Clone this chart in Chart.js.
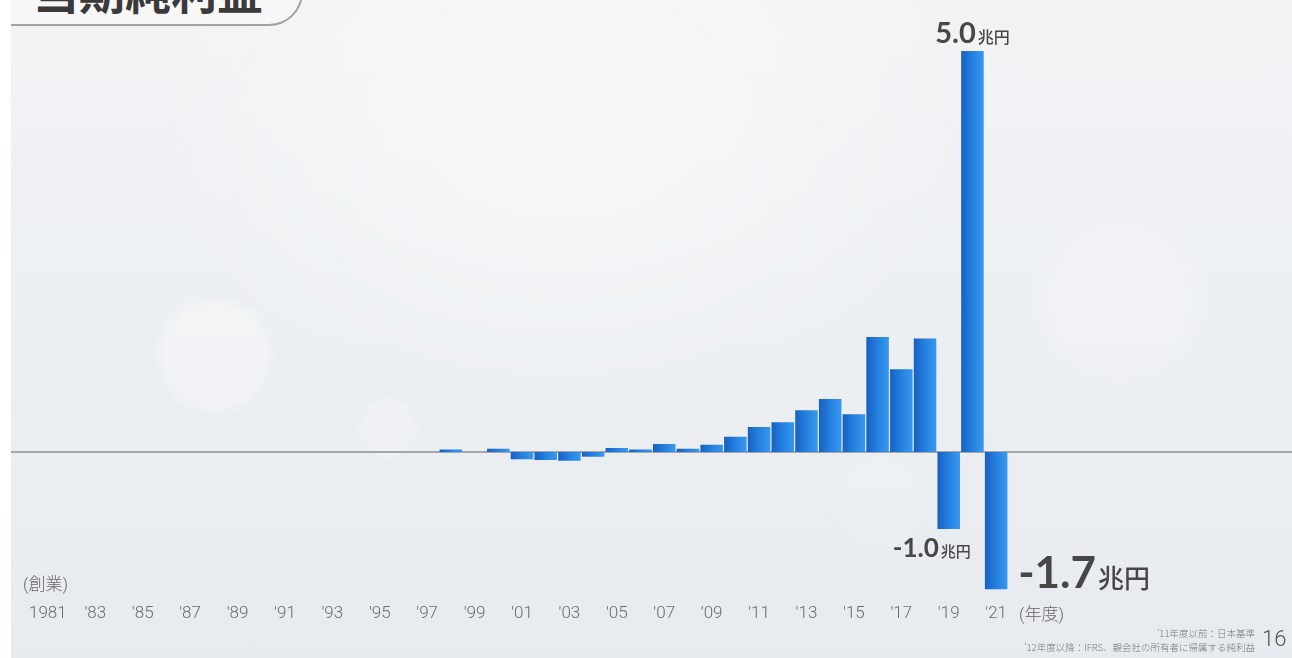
<!DOCTYPE html>
<html lang="ja">
<head>
<meta charset="utf-8">
<title>当期純利益</title>
<script src="https://cdn.jsdelivr.net/npm/chart.js@4.4.1/dist/chart.umd.min.js"></script>
<style>
  html, body { margin: 0; padding: 0; }
  body {
    width: 1292px; height: 658px; overflow: hidden; position: relative;
    font-family: Roboto, "Noto Sans CJK JP", sans-serif;
    background:
      radial-gradient(circle at 215px 355px, rgba(255,255,255,0.28) 0 50px, rgba(255,255,255,0) 62px),
      radial-gradient(circle at 388px 428px, rgba(255,255,255,0.2) 0 24px, rgba(255,255,255,0) 34px),
      radial-gradient(circle at 1120px 300px, rgba(255,255,255,0.16) 0 70px, rgba(255,255,255,0) 92px),
      radial-gradient(circle at 880px 500px, rgba(255,255,255,0.16) 0 40px, rgba(255,255,255,0) 54px),
      radial-gradient(ellipse at 560px 110px, rgba(255,255,255,0.5), rgba(255,255,255,0) 420px),
      linear-gradient(180deg, #f1f3f5 0%, #eceff2 55%, #e7ebef 100%);
  }
  #edge { position: absolute; left: 0; top: 0; width: 11px; height: 658px; background: #fff; }
  #titleBox {
    position: absolute; left: 11px; top: -40px; width: 290px; height: 62px;
    background: #f7f7f7; border: 2px solid #a2a2a2; border-left: none;
    border-radius: 0 0 34px 0;
  }
  #title {
    position: absolute; left: 33px; top: -34px; margin: 0;
    font: 700 46px/46px "Noto Sans CJK JP", sans-serif; color: #3a3a3a;
  }
  #chart { position: absolute; left: 0; top: 0; }
  .note { position: absolute; color: #666; white-space: nowrap; }
  #founded { left: 23px; top: 574px; font: 300 17px/20px Roboto, "Noto Sans CJK JP", sans-serif; }
  #fiscal { left: 1019px; top: 604px; font: 300 17px/20px Roboto, "Noto Sans CJK JP", sans-serif; }
  #foot {
    right: 37px; top: 626px; text-align: right; color: #777;
    font: 300 9.5px/14px "Noto Sans CJK JP", sans-serif;
  }
  #page { left: 1262px; top: 627px; font: 300 22px/24px Roboto, sans-serif; color: #555; }
</style>
</head>
<body>
<div id="edge"></div>
<div id="titleBox"></div>
<h1 id="title">当期純利益</h1>
<canvas id="chart" width="1292" height="658"></canvas>
<div class="note" id="founded">(創業)</div>
<div class="note" id="fiscal">(年度)</div>
<div class="note" id="foot">'11年度以前：日本基準<br>'12年度以降：IFRS、親会社の所有者に帰属する純利益</div>
<div class="note" id="page">16</div>
<script>
// fiscal years, founding year first
const years = [
  1981, 1982, 1983, 1984, 1985, 1986, 1987, 1988, 1989, 1990,
  1991, 1992, 1993, 1994, 1995, 1996, 1997, 1998, 1999, 2000,
  2001, 2002, 2003, 2004, 2005, 2006, 2007, 2008, 2009, 2010,
  2011, 2012, 2013, 2014, 2015, 2016, 2017, 2018, 2019, 2020,
  2021
];

const tickLabels = [
  '1981', '', "'83", '', "'85", '', "'87", '', "'89", '',
  "'91", '', "'93", '', "'95", '', "'97", '', "'99", '',
  "'01", '', "'03", '', "'05", '', "'07", '', "'09", '',
  "'11", '', "'13", '', "'15", '', "'17", '', "'19", '',
  "'21"
];

// net income, trillion yen
const netIncome = [
  0, 0, 0, 0, 0, 0, 0, 0, 0, 0,
  0, 0, 0, 0, 0, 0, 0, 0.03, 0, 0.04,
  -0.09, -0.10, -0.11, -0.06, 0.05, 0.03, 0.10, 0.04, 0.09, 0.19,
  0.31, 0.37, 0.52, 0.66, 0.47, 1.43, 1.03, 1.41, -0.96, 4.99,
  -1.71
];

// years whose amount is written next to the bar
const labelledYears = [2019, 2020, 2021];

function barFill(ctx) {
  const xs = ctx.chart.scales.x;
  const fallback = '#2580dd';
  if (!xs || ctx.dataIndex === undefined || !xs.width) return fallback;
  const cx = xs.getPixelForValue(ctx.dataIndex);
  if (!isFinite(cx)) return fallback;
  const half = xs.width / years.length * 0.48;
  const g = ctx.chart.ctx.createLinearGradient(cx - half, 0, cx + half, 0);
  g.addColorStop(0, '#1760c2');
  g.addColorStop(0.5, '#2580df');
  g.addColorStop(1, '#3899ee');
  return g;
}

const zeroLine = {
  id: 'zeroLine',
  beforeDatasetsDraw(chart) {
    const y = chart.scales.y.getPixelForValue(0);
    const c = chart.ctx;
    c.save();
    c.strokeStyle = '#a4a8ac';
    c.lineWidth = 2;
    c.beginPath();
    c.moveTo(11, y);
    c.lineTo(chart.width, y);
    c.stroke();
    c.restore();
  }
};

function drawAmount(c, value, x, y, align, numSize, unitSize) {
  const num = value.toFixed(1);
  const numFont = `700 ${numSize}px Lato, sans-serif`;
  const unitFont = `500 ${unitSize}px "Noto Sans CJK JP", sans-serif`;
  c.font = numFont;
  const nw = c.measureText(num).width;
  c.font = unitFont;
  const uw = c.measureText('兆円').width;
  const total = nw + 2 + uw;
  let left = x;
  if (align === 'center') left = x - total / 2;
  if (align === 'right') left = x - total;
  c.textAlign = 'left';
  c.textBaseline = 'alphabetic';
  c.fillStyle = '#474747';
  c.font = numFont;
  c.fillText(num, left, y);
  c.font = unitFont;
  c.fillText('兆円', left + nw + 2, y);
}

const amountLabels = {
  id: 'amountLabels',
  afterDatasetsDraw(chart) {
    const bars = chart.getDatasetMeta(0).data;
    const c = chart.ctx;
    c.save();
    labelledYears.forEach(yr => {
      const i = years.indexOf(yr);
      const bar = bars[i];
      const v = netIncome[i];
      if (yr === 2020) drawAmount(c, v, bar.x, bar.y - 8, 'center', 29, 16);
      if (yr === 2019) drawAmount(c, v, bar.x + 22, bar.y + 28, 'right', 26, 15);
      if (yr === 2021) drawAmount(c, v, bar.x + 22, bar.y - 1, 'left', 44, 26);
    });
    c.restore();
  }
};

new Chart(document.getElementById('chart'), {
  type: 'bar',
  data: {
    labels: years,
    datasets: [{
      label: '当期純利益',
      data: netIncome,
      backgroundColor: barFill,
      borderWidth: 0,
      categoryPercentage: 1,
      barPercentage: 0.95
    }]
  },
  options: {
    responsive: false,
    animation: false,
    devicePixelRatio: 1,
    layout: {
      padding: { left: 36, right: 284, top: 34, bottom: 27 }
    },
    plugins: {
      legend: { display: false },
      tooltip: { enabled: false }
    },
    scales: {
      x: {
        grid: { display: false, drawTicks: false },
        border: { display: false },
        ticks: {
          autoSkip: false,
          maxRotation: 0,
          minRotation: 0,
          padding: 7,
          color: '#6c6c6c',
          font: { family: 'Roboto', weight: 300, size: 17 },
          callback: (v, i) => tickLabels[i]
        }
      },
      y: {
        display: false,
        min: -1.8,
        max: 5.2
      }
    }
  },
  plugins: [zeroLine, amountLabels]
});
</script>
</body>
</html>
